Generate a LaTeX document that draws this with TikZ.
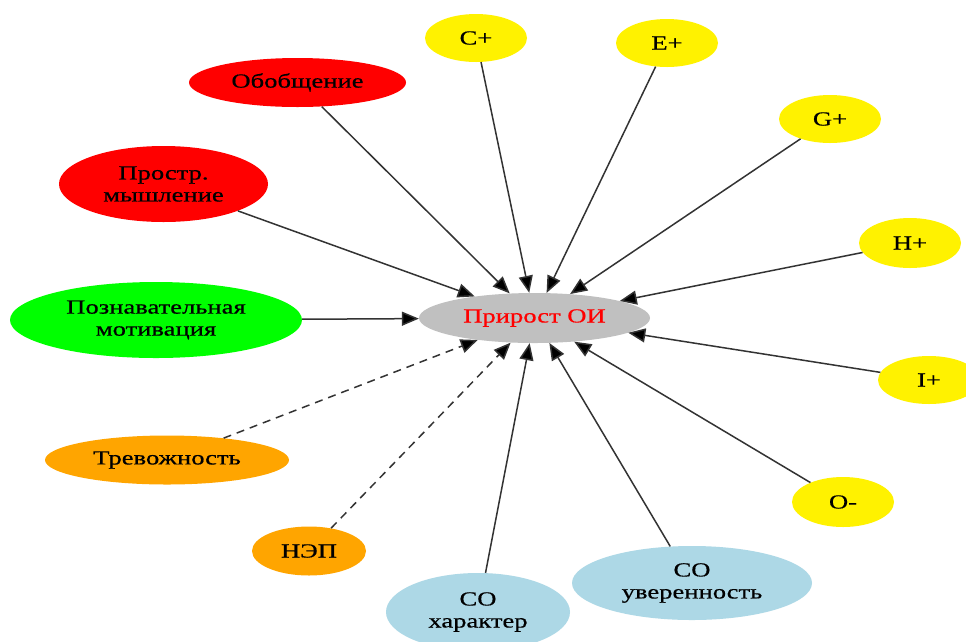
\documentclass[tikz,border=0pt]{standalone}
\usepackage{fontspec}
\setmainfont[FakeStretch=1.33,FakeBold=0.6]{Liberation Serif}
\usetikzlibrary{shapes.geometric,arrows.meta}
\definecolor{lblue}{HTML}{ADD8E6}
\definecolor{orng}{HTML}{FFA500}
\definecolor{grey}{HTML}{C0C0C0}
\definecolor{edgecol}{HTML}{333333}
\tikzset{
  el/.style={ellipse,draw=none,inner sep=0pt,align=center,
    font=\fontsize{20}{22}\selectfont},
  edge/.style={draw=edgecol,line width=1.5pt,
    -{Triangle[length=17pt,width=14pt,fill=black]}},
  dashedge/.style={edge,dash pattern=on 8pt off 6pt}
}
\begin{document}
\begin{tikzpicture}[x=1pt,y=-1pt]
\useasboundingbox (0,0) rectangle (966,641);
\fill[white] (0,0) rectangle (966,641);
\node[el,fill=grey,text=red,minimum width=231pt,minimum height=50pt] (c) at (534.5,318) {Прирост ОИ};
\node[el,fill=red,minimum width=217pt,minimum height=49pt] (obob) at (297.5,82.5) {Обобщение};
\node[el,fill=red,minimum width=209pt,minimum height=76pt] (prost) at (163.5,184) {Простр.\\мышление};
\node[el,fill=green,minimum width=292pt,minimum height=76pt] (pozn) at (156,320) {Познавательная\\мотивация};
\node[el,fill=orng,minimum width=244pt,minimum height=49pt] (trev) at (167,460) {Тревожность};
\node[el,fill=orng,minimum width=114pt,minimum height=49pt] (nep) at (309,551) {НЭП};
\node[el,fill=lblue,minimum width=184pt,minimum height=78pt] (coh) at (478,612) {СО\\характер};
\node[el,fill=lblue,minimum width=240pt,minimum height=74pt] (cou) at (692,583) {СО\\уверенность};
\node[el,fill=yellow,minimum width=102pt,minimum height=48pt] (cp) at (476,38) {C+};
\node[el,fill=yellow,minimum width=102pt,minimum height=48pt] (ep) at (667,43) {E+};
\node[el,fill=yellow,minimum width=102pt,minimum height=48pt] (gp) at (830,119) {G+};
\node[el,fill=yellow,minimum width=102pt,minimum height=50pt] (hp) at (910,243) {H+};
\node[el,fill=yellow,minimum width=102pt,minimum height=48pt] (ip) at (929,380) {I+};
\node[el,fill=yellow,minimum width=102pt,minimum height=50pt] (om) at (843,502) {O-};
\foreach \n in {obob,prost,pozn,coh,cou,cp,ep,gp,hp,ip,om}
  \draw[edge] (\n) -- (c);
\draw[dashedge] (trev) -- (c);
\draw[dashedge] (nep) -- (c);
\end{tikzpicture}
\end{document}
